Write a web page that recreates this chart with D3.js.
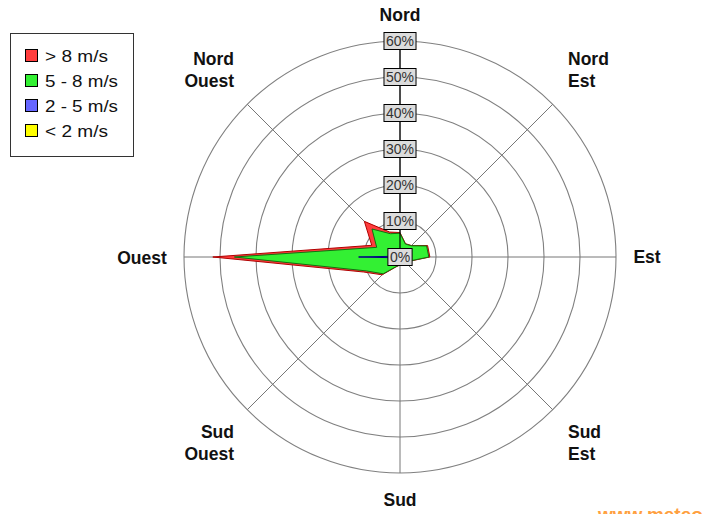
<!DOCTYPE html>
<html><head><meta charset="utf-8">
<script src="https://cdn.jsdelivr.net/npm/d3@7"></script>
<style>body{margin:0;background:#fff}svg{display:block}</style>
</head><body>
<svg id="c" width="721" height="514"></svg>
<script>
const directions = ["N","NNE","NE","ENE","E","ESE","SE","SSE","S","SSW","SW","WSW","W","WNW","NW","NNW"];
const speedClasses = ["> 8 m/s","5 - 8 m/s","2 - 5 m/s","< 2 m/s"];
const classColors = ["#ff3d3d","#33f033","#6666ff","#ffff00"];
const classStrokes = ["#b00000","#107010","#000080","#888800"];
// percentages per direction, per class
const gt8   = [0.2,0.1,0.1,0.3,0.3,0.1,0.0,0.0,0.0,0.1,0.4,0.8,6.0,1.5,3.0,0.5];
const s5_8  = [6.2,3.6,4.1,7.7,7.6,2.6,1.7,1.7,1.9,2.6,6.2,9.5,34.5,6.4,10.6,6.6];
const s2_5  = [0.3,0.2,0.2,0.2,0.3,0.2,0.2,0.2,0.2,0.2,0.3,0.5,11.0,0.5,0.3,0.3];
const lt2   = [0.1,0.1,0.1,0.1,0.1,0.1,0.1,0.1,0.1,0.1,0.1,0.1,0.5,0.1,0.1,0.1];
const ringTicks = [10,20,30,40,50,60];
const compass = [
  {a:0, lines:["Nord"]},{a:45, lines:["Nord","Est"]},{a:90, lines:["Est"]},{a:135, lines:["Sud","Est"]},
  {a:180, lines:["Sud"]},{a:225, lines:["Sud","Ouest"]},{a:270, lines:["Ouest"]},{a:315, lines:["Nord","Ouest"]}
];

const svg = d3.select("#c");
const cx = 400, cy = 257;
const r = d3.scaleLinear().domain([0,60]).range([0,216]);
const ang = d3.scalePoint().domain(directions).range([0, 2*Math.PI*15/16]);
const g = svg.append("g").attr("transform",`translate(${cx},${cy})`);
const FONT = "Liberation Sans, Arial, sans-serif";

// rings
g.selectAll("circle.ring").data(ringTicks).join("circle")
  .attr("r", d=>r(d)).attr("fill","none").attr("stroke","#808080").attr("stroke-width",1.1);
// spokes
[0,45,90,135,180,225,270,315].forEach(a=>{
  const t = a*Math.PI/180;
  g.append("line").attr("x1",0).attr("y1",0)
    .attr("x2", r(60)*Math.sin(t)).attr("y2", -r(60)*Math.cos(t))
    .attr("stroke", "#777").attr("stroke-width",1);
});

// stacked layers (cumulative)
const layers = [lt2, s2_5, s5_8, gt8];
const cum = [];
let acc = directions.map(()=>0);
layers.forEach(l=>{ acc = acc.map((v,i)=>v+l[i]); cum.push(acc.slice()); });
const line = d3.lineRadial().angle((d,i)=>ang(directions[i])).radius(d=>r(d)).curve(d3.curveLinearClosed);
[3,2,1,0].forEach(k=>{
  const ci = 3-k;
  g.append("path").attr("d", line(cum[k]))
    .attr("fill", classColors[ci]).attr("stroke", classStrokes[ci]).attr("stroke-width",1)
    .attr("stroke-linejoin","miter");
});

// scale axis (black vertical)
g.append("line").attr("x1",0).attr("y1",0).attr("x2",0).attr("y2",-r(60)).attr("stroke","#000").attr("stroke-width",1.2);
// tick labels
[0].concat(ringTicks).forEach(t=>{
  const y = -r(t);
  const tg = g.append("g").attr("transform",`translate(0,${y})`);
  const el = tg.append("text").attr("text-anchor","middle").attr("dy","0.36em")
    .attr("font-family",FONT).attr("font-size",14).attr("fill","#333").text(t+"%");
  const w = el.node().getComputedTextLength();
  tg.insert("rect","text").attr("x",-w/2-2).attr("y",-8.5).attr("width",w+4).attr("height",17)
    .attr("fill","#dcdcdc").attr("stroke","#000").attr("stroke-width",1);
});

// compass labels
const labelPos = {
  0:[400,15,"middle"],45:[568,59,"start"],90:[647,257,"middle"],135:[568,432,"start"],
  180:[400,500,"middle"],225:[234,432,"end"],270:[142,258,"middle"],315:[234,59,"end"]
};
compass.forEach(c=>{
  const [x,y,anchor] = labelPos[c.a];
  const t = svg.append("text").attr("x",x).attr("y",y).attr("text-anchor",anchor)
    .attr("font-family",FONT).attr("font-weight","bold").attr("font-size",17.5).attr("fill","#111");
  c.lines.forEach((s,i)=>{
    t.append("tspan").attr("x",x).attr("y",y + i*22).attr("dy","0.36em").text(s);
  });
});

// legend
const legendWidths = [63,73,73,63];
const lg = svg.append("g");
lg.append("rect").attr("x",10.5).attr("y",33.5).attr("width",123).attr("height",123)
  .attr("fill","#fff").attr("stroke","#333").attr("stroke-width",1);
speedClasses.forEach((s,i)=>{
  const y = 56 + i*25;
  lg.append("rect").attr("x",25.5).attr("y",y-6.5).attr("width",12).attr("height",12)
    .attr("fill",classColors[i]).attr("stroke","#000").attr("stroke-width",1);
  lg.append("text").attr("x",45).attr("y",y).attr("dy","0.36em")
    .attr("font-family",FONT).attr("font-size",16).attr("fill","#111")
    .attr("textLength",legendWidths[i]).attr("lengthAdjust","spacingAndGlyphs").text(s);
});

// watermark (cut off at bottom, as in the reference)
svg.append("text").attr("x",598).attr("y",521).attr("font-family",FONT)
  .attr("font-size",19).attr("font-weight","bold").attr("fill","#ffa040").text("www.meteo-");
</script>
</body></html>
